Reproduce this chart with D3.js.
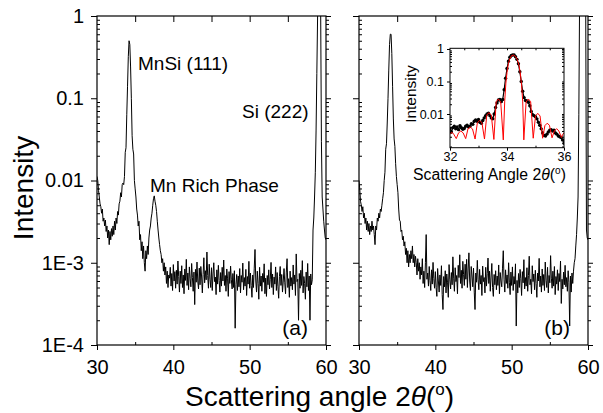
<!DOCTYPE html>
<html><head><meta charset="utf-8">
<script src="https://cdn.jsdelivr.net/npm/d3@7"></script>
<style>
body{margin:0;background:#fff;}
svg{display:block;}
</style></head><body>
<svg id="c" width="603" height="413"></svg>
<script>
// ---------------- DATA ----------------
const scanStart = 30, scanStep = 0.1;          // 2theta grid of both scans (30 ... 60)
// panel (a) intensity
const intensityA = [
 1.12e-2,1.0e-2,7.6e-3,6.3e-3,5.2e-3,4.8e-3,4.0e-3,4.5e-3,3.2e-3,3.5e-3,
 2.8e-3,3.3e-3,2.4e-3,2.8e-3,2.0e-3,2.5e-3,1.66e-3,2.4e-3,1.9e-3,2.6e-3,
 2.1e-3,2.8e-3,2.2e-3,3.2e-3,2.5e-3,3.5e-3,3.0e-3,4.2e-3,3.8e-3,5.2e-3,
 5.6e-3,7.1e-3,6.3e-3,8.9e-3,9.3e-3,8.9e-3,1.12e-2,2.2e-2,2.5e-2,6.3e-2,
 0.14,0.32,0.50,0.45,0.24,0.10,3.5e-2,2.4e-2,2.1e-2,1.0e-2,
 7.9e-3,6.3e-3,4.5e-3,3.8e-3,2.8e-3,3.2e-3,1.9e-3,2.2e-3,1.4e-3,1.8e-3,
 1.12e-3,1.6e-3,1.0e-3,7.9e-4,1.4e-3,1.12e-3,1.6e-3,1.26e-3,2.0e-3,2.5e-3,
 2.8e-3,3.5e-3,4.0e-3,5.0e-3,6.0e-3,6.5e-3,5.6e-3,5.0e-3,4.2e-3,3.2e-3,
 2.5e-3,2.0e-3,1.66e-3,1.4e-3,1.26e-3,1.0e-3,1.12e-3,7.9e-4,1.0e-3,7.1e-4,
 8.9e-4,5.6e-4,7.9e-4,5.0e-4,7.1e-4,
 6.5e-4,8.8e-4,5.2e-4,7.4e-4,4.6e-4,9.5e-4,6.0e-4,7.8e-4,4.9e-4,8.1e-4,
 5.5e-4,10.5e-4,6.8e-4,4.4e-4,7.9e-4,5.6e-4,9.2e-4,5.0e-4,7.1e-4,4.2e-4,
 8.4e-4,6.1e-4,11.0e-4,5.3e-4,7.5e-4,4.7e-4,8.9e-4,6.4e-4,5.1e-4,9.8e-4,
 6.6e-4,4.5e-4,7.7e-4,3.1e-4,8.3e-4,5.8e-4,10.2e-4,6.0e-4,4.8e-4,8.6e-4,
 5.4e-4,9.0e-4,6.9e-4,4.3e-4,7.2e-4,11.5e-4,5.7e-4,8.0e-4,6.2e-4,13.5e-4,
 7.0e-4,4.9e-4,9.6e-4,6.3e-4,5.0e-4,8.7e-4,4.6e-4,7.3e-4,10.0e-4,5.9e-4,
 6.7e-4,4.1e-4,8.2e-4,5.5e-4,9.3e-4,6.1e-4,4.4e-4,7.6e-4,5.2e-4,8.8e-4,
 6.0e-4,10.8e-4,5.3e-4,7.0e-4,4.5e-4,8.4e-4,6.5e-4,3.9e-4,7.8e-4,5.6e-4,
 9.1e-4,6.2e-4,4.8e-4,7.4e-4,5.0e-4,8.0e-4,1.6e-4,5.4e-4,7.2e-4,4.6e-4,
 6.9e-4,5.1e-4,8.5e-4,4.3e-4,7.0e-4,5.8e-4,9.9e-4,4.7e-4,6.6e-4,5.2e-4,
 8.3e-4,4.0e-4,6.8e-4,5.5e-4,10.4e-4,4.9e-4,7.5e-4,5.3e-4,3.8e-4,7.1e-4,
 5.0e-4,8.6e-4,14.5e-4,6.0e-4,4.4e-4,7.9e-4,5.6e-4,3.6e-4,8.8e-4,5.2e-4,
 6.9e-4,4.5e-4,7.4e-4,5.8e-4,9.7e-4,4.2e-4,6.5e-4,3.9e-4,7.0e-4,5.4e-4,
 8.2e-4,4.8e-4,6.3e-4,10.1e-4,5.0e-4,7.3e-4,4.1e-4,6.7e-4,5.5e-4,8.9e-4,
 4.6e-4,7.6e-4,5.1e-4,3.7e-4,6.8e-4,9.0e-4,5.3e-4,7.2e-4,4.4e-4,6.0e-4,
 8.5e-4,5.7e-4,4.2e-4,7.7e-4,11.2e-4,5.0e-4,6.4e-4,3.8e-4,7.9e-4,5.2e-4,
 6.6e-4,4.7e-4,9.4e-4,5.5e-4,7.1e-4,4.0e-4,12.8e-4,5.9e-4,6.3e-4,2.0e-4,
 7.4e-4,4.9e-4,8.1e-4,5.3e-4,10.6e-4,4.3e-4,6.8e-4,5.6e-4,3.6e-4,7.7e-4,
 5.1e-4,9.8e-4,4.6e-4,6.9e-4,2.0e-4,7.3e-4,5.4e-4,6.2e-4,
 2.5e-3,3.5e-3,6.3e-3,1.26e-2,4.0e-2,0.2,1.0,3.0,4.0,2.5,
 1.2,3.0e-2,6.3e-3,4.5e-3,3.2e-3,2.5e-3,2.0e-3,1.9e-3
];
// panel (b) intensity
const intensityB = [
 1.0e-2,7.9e-3,5.6e-3,5.0e-3,4.2e-3,4.8e-3,3.5e-3,4.0e-3,3.0e-3,3.5e-3,
 2.5e-3,3.2e-3,2.4e-3,3.0e-3,2.2e-3,2.8e-3,2.4e-3,3.2e-3,2.5e-3,2.8e-3,
 2.2e-3,1.66e-3,2.8e-3,2.5e-3,3.5e-3,3.2e-3,4.0e-3,3.5e-3,4.5e-3,4.2e-3,
 5.0e-3,6.0e-3,7.1e-3,1.0e-2,1.26e-2,2.4e-2,2.8e-2,5.0e-2,0.10,0.22,
 0.45,0.60,0.60,0.35,0.14,5.6e-2,3.2e-2,2.6e-2,1.6e-2,1.12e-2,
 8.9e-3,7.1e-3,4.5e-3,3.3e-3,3.2e-3,2.4e-3,2.5e-3,1.9e-3,2.1e-3,1.6e-3,
 1.8e-3,1.26e-3,1.5e-3,1.0e-3,1.4e-3,8.9e-4,1.26e-3,1.0e-3,1.4e-3,1.12e-3,
 1.6e-3,1.0e-3,1.26e-3,8.9e-4,1.2e-3,1.0e-3,7.1e-4,1.12e-3,7.9e-4,1.0e-3,
 6.3e-4,8.9e-4,7.1e-4,1.12e-3,5.6e-4,7.9e-4,5.0e-4,1.0e-3,2.2e-3,6.3e-4,
 7.5e-4,5.2e-4,9.0e-4,6.1e-4,4.6e-4,8.2e-4,5.5e-4,10.1e-4,6.4e-4,4.9e-4,
 7.8e-4,5.0e-4,3.9e-4,8.5e-4,6.0e-4,4.4e-4,7.1e-4,5.3e-4,9.2e-4,4.1e-4,
 2.7e-4,6.8e-4,5.1e-4,8.0e-4,4.3e-4,7.3e-4,5.7e-4,3.8e-4,9.5e-4,6.2e-4,
 4.8e-4,7.6e-4,5.4e-4,11.8e-4,6.5e-4,4.5e-4,8.7e-4,5.9e-4,7.0e-4,4.2e-4,
 9.3e-4,6.6e-4,12.5e-4,5.6e-4,8.1e-4,4.9e-4,10.4e-4,7.2e-4,5.3e-4,9.6e-4,
 6.3e-4,11.0e-4,5.0e-4,8.4e-4,13.2e-4,6.0e-4,4.6e-4,9.0e-4,6.9e-4,5.1e-4,
 8.6e-4,4.4e-4,2.7e-4,7.5e-4,5.8e-4,10.7e-4,6.2e-4,4.7e-4,8.3e-4,5.5e-4,
 7.0e-4,4.0e-4,9.1e-4,5.9e-4,6.6e-4,4.3e-4,8.8e-4,5.2e-4,7.4e-4,11.4e-4,
 5.6e-4,7.9e-4,4.5e-4,6.7e-4,9.8e-4,5.0e-4,3.9e-4,7.2e-4,5.4e-4,8.0e-4,
 4.7e-4,6.9e-4,5.3e-4,9.4e-4,4.2e-4,7.6e-4,6.0e-4,5.1e-4,8.6e-4,14.0e-4,
 6.2e-4,4.4e-4,8.2e-4,5.6e-4,7.1e-4,4.9e-4,10.0e-4,5.8e-4,4.1e-4,7.7e-4,
 5.3e-4,8.9e-4,4.6e-4,6.8e-4,5.5e-4,9.7e-4,1.7e-4,6.1e-4,4.3e-4,7.4e-4,
 5.0e-4,8.3e-4,6.4e-4,4.0e-4,7.8e-4,5.7e-4,10.9e-4,4.8e-4,6.6e-4,5.2e-4,
 8.7e-4,4.5e-4,7.0e-4,12.0e-4,5.4e-4,6.3e-4,4.2e-4,9.2e-4,5.9e-4,7.3e-4,
 4.7e-4,8.1e-4,5.6e-4,3.8e-4,7.5e-4,6.0e-4,11.3e-4,5.1e-4,6.9e-4,4.4e-4,
 8.4e-4,5.3e-4,7.2e-4,4.6e-4,10.2e-4,6.1e-4,5.0e-4,8.8e-4,4.3e-4,7.0e-4,
 5.7e-4,12.2e-4,6.5e-4,4.9e-4,7.9e-4,5.2e-4,9.0e-4,4.1e-4,6.8e-4,5.5e-4,
 8.2e-4,4.6e-4,7.4e-4,5.9e-4,10.5e-4,3.2e-4,6.3e-4,4.8e-4,7.7e-4,5.4e-4,
 9.3e-4,5.1e-4,6.6e-4,4.5e-4,8.0e-4,5.8e-4,1.7e-4,6.9e-4,4.4e-4,7.5e-4,
 5.6e-4,
 7.9e-4,1.0e-3,1.12e-3,1.6e-3,2.2e-3,3.5e-3,6.3e-3,6.3e-2,1.6,4.0,
 6.0,6.0,5.0,3.0,2.0,1.6,1.3,2.5e-3,2.0e-3,1.9e-3
];
// inset: measured points (32 ... 36, step 0.05)
const insetStart = 32, insetStep = 0.05;
const insetMeasured = [
 3.5e-3,2.8e-3,3.8e-3,4.2e-3,3.5e-3,4.0e-3,3.3e-3,4.4e-3,3.8e-3,3.4e-3,
 3.6e-3,4.2e-3,4.5e-3,4.0e-3,4.2e-3,5.0e-3,4.8e-3,6.0e-3,6.6e-3,6.0e-3,
 6.8e-3,5.6e-3,5.2e-3,6.3e-3,7.6e-3,8.9e-3,1.0e-2,1.05e-2,8.9e-3,7.6e-3,
 7.1e-3,1.0e-2,1.6e-2,2.2e-2,2.7e-2,2.8e-2,2.4e-2,2.8e-2,5.6e-2,0.126,
 0.25,0.42,0.56,0.63,0.66,0.65,0.58,0.48,0.35,0.20,
 0.10,5.0e-2,3.2e-2,2.6e-2,2.5e-2,2.3e-2,1.8e-2,1.2e-2,9.5e-3,8.9e-3,
 8.3e-3,7.1e-3,5.6e-3,4.5e-3,3.5e-3,2.6e-3,2.2e-3,2.1e-3,2.4e-3,2.8e-3,
 3.2e-3,3.3e-3,3.0e-3,3.2e-3,2.6e-3,2.4e-3,2.1e-3,2.0e-3,1.9e-3,1.6e-3,
 1.26e-3
];
// inset: fit (red)
const fitAngle = [32.00,32.04,32.08,32.13,32.22,32.30,32.38,32.46,32.55,32.63,32.71,32.79,32.88,32.96,33.04,33.12,
 33.21,33.29,33.37,33.45,33.54,33.62,33.70,33.78,33.87,33.92,33.96,34.00,34.05,34.10,34.16,34.23,34.30,34.36,
 34.42,34.47,34.51,34.55,34.59,34.67,34.75,34.83,34.92,35.00,35.08,35.16,35.25,35.33,35.41,35.49,35.58,35.66,
 35.74,35.82,35.91,35.96,36.00];
const fitIntensity = [2.4e-3,2.63e-3,2.7e-3,2.4e-3,1.75e-3,2.63e-3,3.0e-3,2.63e-3,1.75e-3,3.47e-3,3.98e-3,3.47e-3,
 1.7e-3,5.4e-3,6.3e-3,5.4e-3,1.7e-3,9.3e-3,1.1e-2,9.1e-3,1.65e-3,2.4e-2,2.9e-2,2.34e-2,1.6e-3,2.5e-2,8.9e-2,
 0.19,0.355,0.5,0.62,0.65,0.59,0.47,0.32,0.17,7.9e-2,2.5e-2,1.6e-3,2.34e-2,2.9e-2,2.4e-2,1.8e-3,8.7e-3,1.05e-2,
 8.7e-3,1.8e-3,4.4e-3,5.2e-3,4.5e-3,1.85e-3,3.0e-3,3.55e-3,3.0e-3,1.9e-3,2.4e-3,2.63e-3];

const xMajor = [30,40,50,60], xMinor = [35,45,55];
const yMajor = [1e-4,1e-3,1e-2,1e-1,1];
const yLabels = ["1E-4","1E-3","0.01","0.1","1"];
const insetXMajor = [32,34,36], insetXMinor = [33,35];
const insetYMajor = [0.01,0.1,1], insetYLabels = ["0.01","0.1","1"];
const annotations = [
  {text:"MnSi (111)", x:138, y:70},
  {text:"Si (222)", x:242, y:118},
  {text:"Mn Rich Phase", x:150, y:192}
];

// ---------------- DRAW ----------------
const FONT = "'Liberation Sans', Arial, Helvetica, sans-serif";
const svg = d3.select("#c");
svg.append("rect").attr("width",603).attr("height",413).attr("fill","#fff");
const top0 = 16, bot0 = 345;
const y = d3.scaleLog().domain([1e-4,1]).range([bot0, top0]);
const minorY = [];
for (let e=-4; e<0; e++) for (let k=2;k<=9;k++) minorY.push(k*Math.pow(10,e));

function clean(g, fs){
  g.attr("font-family",FONT).attr("font-size",fs);
  g.select(".domain").remove();
  g.selectAll(".tick line").attr("stroke","#000").attr("stroke-width",1);
  g.selectAll(".tick text").attr("fill","#000");
  return g;
}

const panels = [
  {x0:97, x1:326, values:intensityA, tag:"(a)", labels:true},
  {x0:359, x1:588, values:intensityB, tag:"(b)", labels:false}
];

panels.forEach((p,pi)=>{
  const x = d3.scaleLinear().domain([30,60]).range([p.x0,p.x1]);
  const g = svg.append("g");
  svg.append("clipPath").attr("id","clip"+pi).append("rect")
     .attr("x",p.x0).attr("y",top0).attr("width",p.x1-p.x0).attr("height",bot0-top0);
  g.append("path").datum(p.values).attr("clip-path",`url(#clip${pi})`)
   .attr("fill","none").attr("stroke","#000").attr("stroke-width",1).attr("stroke-linejoin","round")
   .attr("d", d3.line().x((d,i)=>x(scanStart+i*scanStep)).y(d=>y(d)));
  // bottom
  clean(g.append("g").attr("transform",`translate(0,${bot0})`)
     .call(d3.axisBottom(x).tickValues(xMajor).tickSize(5).tickPadding(10).tickFormat(d3.format("d"))),20);
  clean(g.append("g").attr("transform",`translate(0,${bot0})`)
     .call(d3.axisTop(x).tickValues(xMinor).tickSize(3).tickFormat("")),10);
  // top
  clean(g.append("g").attr("transform",`translate(0,${top0})`)
     .call(d3.axisBottom(x).tickValues([35,40,45,50,55]).tickSize(6).tickFormat("")),10);
  // left
  const la = g.append("g").attr("transform",`translate(${p.x0},0)`)
     .call(d3.axisLeft(y).tickValues(yMajor).tickSize(6).tickPadding(7)
        .tickFormat((d,i)=> p.labels ? yLabels[i] : ""));
  clean(la,20);
  clean(g.append("g").attr("transform",`translate(${p.x0},0)`)
     .call(d3.axisRight(y).tickValues(minorY).tickSize(3).tickFormat("")),10);
  // right
  clean(g.append("g").attr("transform",`translate(${p.x1},0)`)
     .call(d3.axisRight(y).tickValues(yMajor).tickSize(5).tickFormat("")),10);
  clean(g.append("g").attr("transform",`translate(${p.x1},0)`)
     .call(d3.axisRight(y).tickValues(minorY).tickSize(3).tickFormat("")),10);
  // frame
  g.append("rect").attr("x",p.x0).attr("y",top0).attr("width",p.x1-p.x0).attr("height",bot0-top0)
   .attr("fill","none").attr("stroke","#000").attr("stroke-width",1.2);
  // tag
  g.append("text").attr("x",p.x1-18).attr("y",335).attr("text-anchor","end")
   .attr("font-family",FONT).attr("font-size",21).text(p.tag);
});

annotations.forEach(a=>{
  svg.append("text").attr("x",a.x).attr("y",a.y).attr("font-family",FONT).attr("font-size",19).text(a.text);
});

// main axis titles
svg.append("text").attr("transform","translate(33,188) rotate(-90)").attr("text-anchor","middle")
  .attr("font-family",FONT).attr("font-size",28).text("Intensity");
const xt = svg.append("text").attr("x",185).attr("y",406).attr("font-family",FONT).attr("font-size",28);
xt.append("tspan").text("Scattering angle 2");
xt.append("tspan").attr("font-style","italic").text("θ");
xt.append("tspan").text("(");
xt.append("tspan").attr("font-size",17).attr("dy",-11).text("o");
xt.append("tspan").attr("dy",11).text(")");

// ---------------- INSET ----------------
const ix0=450, ix1=564, iy0=48.3, iy1=147.7;
const xi = d3.scaleLinear().domain([32,36]).range([ix0,ix1]);
const yi = d3.scaleLog().domain([9.2e-4,1.05]).range([iy1,iy0]);
const ig = svg.append("g");
ig.append("rect").attr("x",ix0).attr("y",iy0).attr("width",ix1-ix0).attr("height",iy1-iy0).attr("fill","#fff");
svg.append("clipPath").attr("id","iclip").append("rect")
   .attr("x",ix0).attr("y",iy0).attr("width",ix1-ix0).attr("height",iy1-iy0);
const ic = ig.append("g").attr("clip-path","url(#iclip)");
ic.append("path").datum(insetMeasured).attr("fill","none").attr("stroke","#000").attr("stroke-width",1.2)
  .attr("d", d3.line().x((d,i)=>xi(insetStart+i*insetStep)).y(d=>yi(d)));
ic.selectAll("circle").data(insetMeasured).join("circle")
  .attr("cx",(d,i)=>xi(insetStart+i*insetStep)).attr("cy",d=>yi(d)).attr("r",1.7).attr("fill","#000");
ic.append("path").datum(fitAngle.map((a,i)=>[a,fitIntensity[i]])).attr("fill","none")
  .attr("stroke","#ff0000").attr("stroke-width",1)
  .attr("d", d3.line().x(d=>xi(d[0])).y(d=>yi(d[1])));
const iMinorY = [];
for (let e=-3; e<0; e++) for (let k=1;k<=9;k++){ const v=k*Math.pow(10,e); if(k>1||e===-3) iMinorY.push(v); }
clean(ig.append("g").attr("transform",`translate(0,${iy1})`)
  .call(d3.axisBottom(xi).tickValues(insetXMajor).tickSize(3).tickPadding(1).tickFormat(d3.format("d"))),12.5);
clean(ig.append("g").attr("transform",`translate(0,${iy1})`)
  .call(d3.axisTop(xi).tickValues(insetXMinor).tickSize(2).tickFormat("")),10);
clean(ig.append("g").attr("transform",`translate(0,${iy0})`)
  .call(d3.axisBottom(xi).tickValues([32.5,33,33.5,34,34.5,35,35.5]).tickSize(2).tickFormat("")),10);
clean(ig.append("g").attr("transform",`translate(${ix0},0)`)
  .call(d3.axisLeft(yi).tickValues(insetYMajor).tickSize(3).tickPadding(3).tickFormat((d,i)=>insetYLabels[i])),12.5);
clean(ig.append("g").attr("transform",`translate(${ix0},0)`)
  .call(d3.axisRight(yi).tickValues(iMinorY).tickSize(2).tickFormat("")),10);
clean(ig.append("g").attr("transform",`translate(${ix1},0)`)
  .call(d3.axisLeft(yi).tickValues(iMinorY.concat(insetYMajor)).tickSize(2).tickFormat("")),10);
ig.append("rect").attr("x",ix0).attr("y",iy0).attr("width",ix1-ix0).attr("height",iy1-iy0)
  .attr("fill","none").attr("stroke","#000").attr("stroke-width",1);
svg.append("text").attr("transform","translate(416,94) rotate(-90)").attr("text-anchor","middle")
  .attr("font-family",FONT).attr("font-size",15.5).text("Intensity");
const it = svg.append("text").attr("x",413).attr("y",180).attr("font-family",FONT).attr("font-size",15.8);
it.append("tspan").text("Scattering Angle 2");
it.append("tspan").attr("font-style","italic").text("θ");
it.append("tspan").text("(");
it.append("tspan").attr("font-size",10).attr("dy",-6).text("o");
it.append("tspan").attr("dy",6).text(")");
</script>
</body></html>
